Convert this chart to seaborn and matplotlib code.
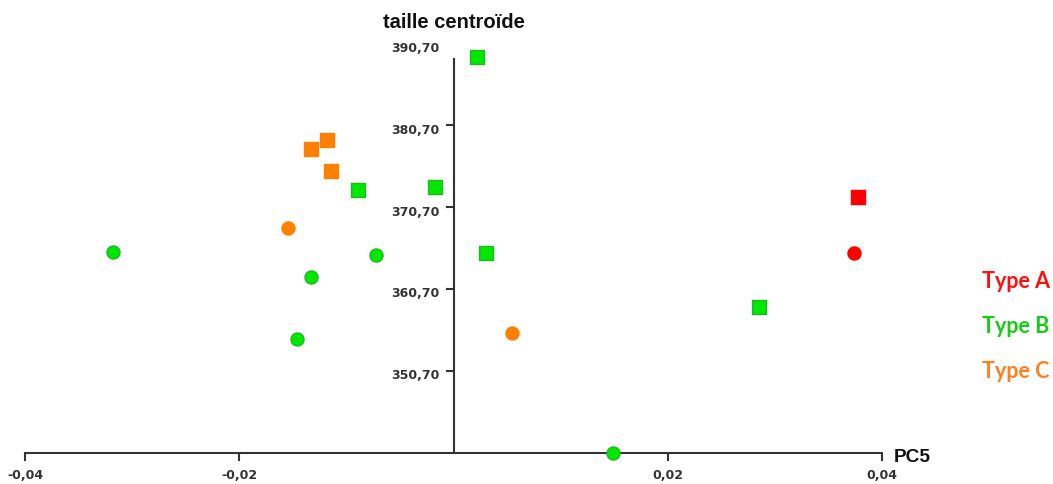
import matplotlib
matplotlib.use("Agg")
import matplotlib.pyplot as plt
import matplotlib.transforms as mtransforms
import seaborn as sns
import pandas as pd

# PCA scores: PC5 against centroid size, by type and by shape of specimen
type_a_sq_x = [0.03776]
type_a_sq_y = [371.90]
type_a_ci_x = [0.03741]
type_a_ci_y = [365.06]

type_b_sq_x = [0.00215, -0.00896, -0.00174, 0.00299, 0.02852]
type_b_sq_y = [388.99, 372.75, 373.19, 365.06, 358.47]
type_b_ci_x = [-0.03182, -0.01331, -0.00728, -0.01466, 0.01488]
type_b_ci_y = [365.22, 362.20, 364.85, 354.56, 340.70]

type_c_sq_x = [-0.01331, -0.01179, -0.01145]
type_c_sq_y = [377.76, 378.86, 375.14]
type_c_ci_x = [-0.01550, 0.00548]
type_c_ci_y = [368.11, 355.36]

types = ["Type A", "Type B", "Type C"]
x_ticks = [-0.04, -0.02, 0.02, 0.04]
x_tick_labels = ["-0,04", "-0,02", "0,02", "0,04"]
y_ticks = [350.70, 360.70, 370.70, 380.70, 390.70]
y_tick_labels = ["350,70", "360,70", "370,70", "380,70", "390,70"]

fill = {"Type A": "#ff0000", "Type B": "#00e800", "Type C": "#ff8000"}
edge = {"Type A": "#ff0000", "Type B": "#1fb81f", "Type C": "#ff8000"}
text_col = {"Type A": "#ff1010", "Type B": "#16cc16", "Type C": "#ff7f20"}

rows = []
for t, sx, sy, cx, cy in [
    ("Type A", type_a_sq_x, type_a_sq_y, type_a_ci_x, type_a_ci_y),
    ("Type B", type_b_sq_x, type_b_sq_y, type_b_ci_x, type_b_ci_y),
    ("Type C", type_c_sq_x, type_c_sq_y, type_c_ci_x, type_c_ci_y),
]:
    rows += [dict(pc5=a, taille=b, type=t, forme="carré") for a, b in zip(sx, sy)]
    rows += [dict(pc5=a, taille=b, type=t, forme="rond") for a, b in zip(cx, cy)]
df = pd.DataFrame(rows)

sns.set_theme(style="white")
plt.rcParams["font.family"] = ["DejaVu Sans"]

fig = plt.figure(figsize=(10.53, 4.84), dpi=100)
ax = fig.add_axes([0.02403, 0.0645, 0.8136, 0.8461])

axis_col = "#333333"
for t in types:
    for forme, mk, size in [("carré", "s", 92), ("rond", "o", 88)]:
        sub = df[(df["type"] == t) & (df["forme"] == forme)]
        if sub.empty:
            continue
        sns.scatterplot(data=sub, x="pc5", y="taille", marker=mk, s=size,
                        color=fill[t], edgecolor=edge[t], linewidth=1.0,
                        ax=ax, legend=False, zorder=5, clip_on=False)

ax.set_xlim(-0.04, 0.04)
ax.set_ylim(340.70, 390.70)

for side in ["top", "right"]:
    ax.spines[side].set_visible(False)
ax.spines["left"].set_position(("data", 0))
ax.spines["left"].set_bounds(340.70, 388.75)
ax.spines["bottom"].set_bounds(-0.04, 0.04)
for side in ["left", "bottom"]:
    ax.spines[side].set_color(axis_col)
    ax.spines[side].set_linewidth(1.5)

ax.set_xticks(x_ticks)
ax.set_xticklabels(x_tick_labels)
ax.set_yticks(y_ticks)
ax.set_yticklabels(y_tick_labels)
ax.tick_params(axis="both", direction="out", length=5.5, width=1.5,
               color=axis_col, labelcolor=axis_col, labelsize=9)
ax.tick_params(axis="x", pad=6, bottom=True)
ax.tick_params(axis="y", pad=4.5, left=True)
for lab in ax.get_xticklabels() + ax.get_yticklabels():
    lab.set_fontweight("bold")
# y labels sit a little below their ticks
shift = mtransforms.ScaledTranslation(0, -3.5 / 100, fig.dpi_scale_trans)
for lab in ax.get_yticklabels():
    lab.set_transform(lab.get_transform() + shift)
# top label has no tick mark
ax.yaxis.get_major_ticks()[-1].tick1line.set_visible(False)

ax.set_xlabel("")
ax.set_ylabel("")
ax.grid(False)

fig.text(454 / 1053, 0.9415, "taille centroïde", ha="center", va="baseline",
         fontsize=14.5, fontweight="bold", family="Liberation Sans",
         color="#111111")
fig.text(894 / 1053, 0.046, "PC5", ha="left", va="baseline",
         fontsize=13.8, fontweight="bold", family="Liberation Sans",
         color="#111111")

for t, yb in zip(types, [0.4043, 0.3114, 0.2184]):
    fig.text(982 / 1053, yb, t, ha="left", va="baseline", fontsize=15.5,
             fontweight="bold", family="Lato", color=text_col[t])

fig.savefig("out.png", dpi=100, facecolor="white")
